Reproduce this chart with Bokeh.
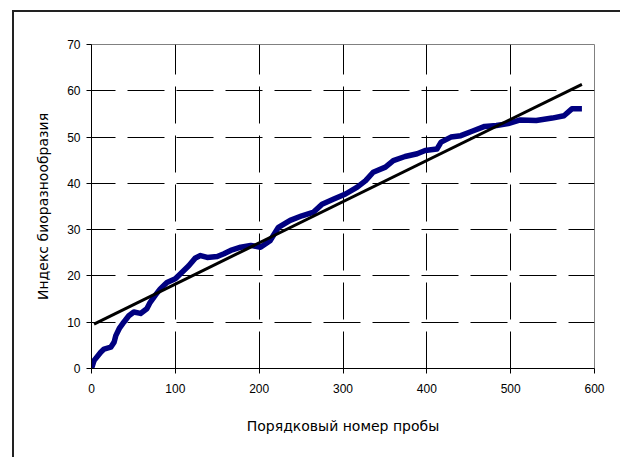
from bokeh.plotting import figure
from bokeh.models import FixedTicker
from bokeh.embed import file_html
from bokeh.resources import INLINE

# Data
sample_no = [0, 3, 11, 15, 23, 27, 29, 33, 38.5, 44.5, 50.5, 58.5, 66, 70, 76, 82, 90,
             100, 108, 116, 124, 130, 138, 150, 158, 166, 178, 190, 201.6, 213, 223,
             237, 251, 265, 275, 289, 303, 317, 327, 336, 350.6, 360, 374, 388.5, 398,
             412, 417, 428.7, 440.5, 454.7, 469, 483, 497, 511.5, 530.5, 549.5, 563.6,
             573, 585]
biodiversity = [0, 1.7, 3.5, 4.2, 4.6, 5.7, 7.1, 8.6, 10.0, 11.4, 12.2, 11.9, 12.9, 14.3,
                15.8, 17.2, 18.6, 19.4, 20.8, 22.2, 23.9, 24.4, 24.0, 24.2, 24.8, 25.5,
                26.2, 26.6, 26.2, 27.6, 30.5, 32.0, 33.0, 33.8, 35.5, 36.6, 37.7, 39.2,
                40.6, 42.4, 43.5, 44.9, 45.8, 46.4, 47.1, 47.4, 48.9, 50.0, 50.3, 51.3,
                52.3, 52.5, 52.9, 53.7, 53.6, 54.1, 54.6, 56.1, 56.1]
trend_x = [3, 585]
trend_y = [9.6, 61.4]

x_ticks = [0, 100, 200, 300, 400, 500, 600]
y_ticks = [0, 10, 20, 30, 40, 50, 60, 70]
x_grid = [100, 200, 300, 400, 500]
y_grid = [10, 20, 30, 40, 50, 60]

p = figure(frame_width=503, frame_height=324, x_range=(0, 600), y_range=(0, 70),
           output_backend="svg", toolbar_location=None,
           min_border_left=77, min_border_right=28, min_border_top=32, min_border_bottom=91)
p.margin = (12, 0, 0, 14)
p.styles = {"box-shadow": "-2px -2px 0px 0px #222222"}

p.outline_line_color = "#808080"
p.outline_line_width = 1
p.background_fill_color = "white"
p.border_fill_color = "white"

p.line(sample_no, biodiversity, line_color="#000080", line_width=5.5, line_join="round")
p.line(trend_x, trend_y, line_color="black", line_width=3)

for ax in (p.xaxis[0], p.yaxis[0]):
    ax.axis_line_color = "black"
    ax.axis_line_width = 1
    ax.major_tick_line_color = "black"
    ax.major_tick_in = 0
    ax.major_tick_out = 5
    ax.minor_tick_line_color = None
    ax.major_label_text_font = "Liberation Sans"
    ax.major_label_text_font_size = "12px"
    ax.major_label_text_color = "black"
    ax.axis_label_text_font = "DejaVu Sans"
    ax.axis_label_text_font_size = "14px"
    ax.axis_label_text_font_style = "normal"
    ax.axis_label_text_color = "black"

p.xaxis.ticker = FixedTicker(ticks=x_ticks)
p.yaxis.ticker = FixedTicker(ticks=y_ticks)
p.xaxis.axis_label = "Порядковый номер пробы"
p.yaxis.axis_label = "Индекс биоразнообразия"
p.xaxis.major_label_standoff = 10
p.xaxis.axis_label_standoff = 22
p.yaxis.major_label_standoff = 6
p.yaxis.axis_label_standoff = 13

p.xgrid.ticker = FixedTicker(ticks=x_grid)
p.ygrid.ticker = FixedTicker(ticks=y_grid)
for g in (p.xgrid[0], p.ygrid[0]):
    g.grid_line_color = "black"
    g.grid_line_width = 1
    g.grid_line_dash = "37 12"
p.ygrid.grid_line_dash_offset = 13

open("out.html", "w").write(file_html(p, INLINE))
